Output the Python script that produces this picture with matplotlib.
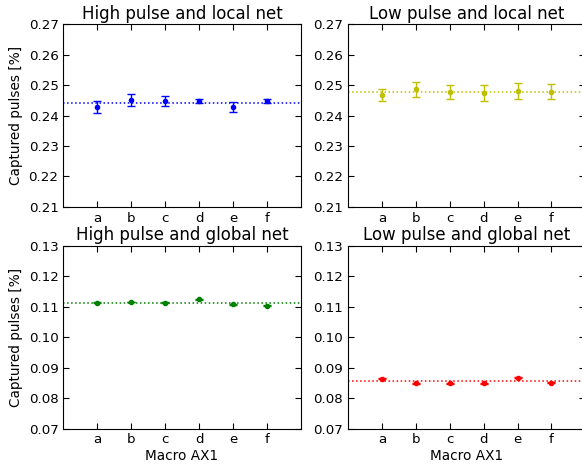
import matplotlib
matplotlib.use("Agg")
import matplotlib.pyplot as plt
import numpy as np

macros = ['a', 'b', 'c', 'd', 'e', 'f']

# high pulse, local net
hl_vals = [0.2429, 0.2450, 0.2447, 0.2448, 0.2429, 0.2447]
hl_err = [0.0020, 0.0020, 0.0016, 0.0007, 0.0016, 0.0006]
# low pulse, local net
ll_vals = [0.2468, 0.2486, 0.2478, 0.2475, 0.2480, 0.2479]
ll_err = [0.0021, 0.0024, 0.0023, 0.0026, 0.0026, 0.0026]
# high pulse, global net
hg_vals = [0.1114, 0.1116, 0.1114, 0.1125, 0.1109, 0.1103]
hg_err = [0.00015, 0.00015, 0.00015, 0.00015, 0.00015, 0.00015]
# low pulse, global net
lg_vals = [0.0864, 0.0849, 0.0849, 0.0849, 0.0867, 0.0851]
lg_err = [0.00015, 0.00015, 0.00015, 0.00015, 0.00015, 0.00015]

panels = [
    ("High pulse and local net", hl_vals, hl_err, 'b', (0.21, 0.27)),
    ("Low pulse and local net", ll_vals, ll_err, (0.75, 0.75, 0), (0.21, 0.27)),
    ("High pulse and global net", hg_vals, hg_err, (0, 0.5, 0), (0.07, 0.13)),
    ("Low pulse and global net", lg_vals, lg_err, 'r', (0.07, 0.13)),
]

plt.rcParams['font.family'] = ['DejaVu Sans']
plt.rcParams['xtick.direction'] = 'in'
plt.rcParams['ytick.direction'] = 'in'
plt.rcParams['xtick.top'] = True
plt.rcParams['ytick.right'] = True

W, H = 582.0, 466.0
fig = plt.figure(figsize=(5.82, 4.66), dpi=100)

lefts = [63.4, 348.0]
tops = [24.3, 246.0]
aw, ah = 237.3, 182.6

x = np.arange(1, len(macros) + 1)
for i, (title, vals, err, col, ylim) in enumerate(panels):
    r, c = divmod(i, 2)
    ax = fig.add_axes([lefts[c] / W, 1 - (tops[r] + ah) / H, aw / W, ah / H])
    ax.errorbar(x, vals, yerr=err, fmt='o', color=col, ms=3, capsize=3,
                elinewidth=1, capthick=1, zorder=3)
    ax.axhline(np.mean(vals), color=col, ls=':', lw=1.1)
    ax.set_xlim(0, 7)
    ax.set_ylim(*ylim)
    ax.set_yticks(np.linspace(ylim[0], ylim[1], 7))
    ax.set_yticklabels(["%.2f" % v for v in np.linspace(ylim[0], ylim[1], 7)])
    ax.set_xticks(x)
    ax.set_xticklabels(macros)
    ax.tick_params(labelsize=9.6, length=4, pad=3.5)
    ax.set_title(title, fontsize=12, pad=4)
    if c == 1:
        # figure is cropped just before the right spine
        ax.spines['right'].set_visible(False)
    if c == 0:
        ax.set_ylabel("Captured pulses [%]", fontsize=9.8)
    if r == 1:
        ax.set_xlabel("Macro AX1", fontsize=9.8, labelpad=2)

fig.savefig("out.png", dpi=100)
